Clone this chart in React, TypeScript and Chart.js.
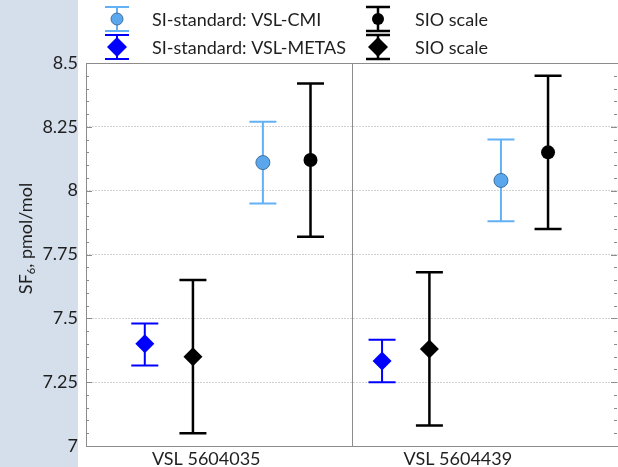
import React, { useEffect, useRef } from 'react';
import { Chart, registerables } from 'chart.js';

Chart.register(...registerables);

// ---- data ----
const categories = ['VSL 5604035', 'VSL 5604439'];
const categoryPositions = [0.452, 1.398];
const groupDivider = [1];
const yTickValues = [7, 7.25, 7.5, 7.75, 8, 8.25, 8.5];

const cmiX = [0.665, 1.56];
const cmiY = [8.11, 8.04];
const cmiLow = [7.95, 7.88];
const cmiHigh = [8.27, 8.2];

const sioCmiX = [0.844, 1.737];
const sioCmiY = [8.12, 8.15];
const sioCmiLow = [7.82, 7.85];
const sioCmiHigh = [8.42, 8.45];

const metasX = [0.221, 1.113];
const metasY = [7.4, 7.333];
const metasLow = [7.315, 7.25];
const metasHigh = [7.48, 7.416];

const sioMetasX = [0.402, 1.291];
const sioMetasY = [7.35, 7.38];
const sioMetasLow = [7.05, 7.08];
const sioMetasHigh = [7.65, 7.68];

const FONT = 'Lato, "Open Sans", sans-serif';
const TEXT = '#1f1f1f';

function pts(xs: number[], ys: number[], lo: number[], hi: number[]) {
  return xs.map((x, i) => ({ x, y: ys[i], yMin: lo[i], yMax: hi[i] }));
}

const errorBarPlugin = {
  id: 'errorBars',
  beforeDatasetsDraw(chart: any) {
    const { ctx } = chart;
    const xs = chart.scales.x;
    const ys = chart.scales.y;
    chart.data.datasets.forEach((ds: any, di: number) => {
      if (!chart.isDatasetVisible(di)) return;
      ctx.save();
      ctx.strokeStyle = ds.errorBarColor;
      ctx.lineWidth = ds.errorBarWidth;
      ds.data.forEach((d: any) => {
        const px = xs.getPixelForValue(d.x);
        const t = ys.getPixelForValue(d.yMax);
        const b = ys.getPixelForValue(d.yMin);
        const hw = 13.5;
        ctx.beginPath();
        ctx.moveTo(px, t);
        ctx.lineTo(px, b);
        ctx.moveTo(px - hw, t);
        ctx.lineTo(px + hw, t);
        ctx.moveTo(px - hw, b);
        ctx.lineTo(px + hw, b);
        ctx.stroke();
      });
      ctx.restore();
    });
  },
};

const framePlugin = {
  id: 'frame',
  beforeDatasetsDraw(chart: any) {
    const { ctx, chartArea: a } = chart;
    const ys = chart.scales.y;
    ctx.save();
    ctx.strokeStyle = '#8c8c8c';
    ctx.lineWidth = 1;
    ctx.strokeRect(Math.round(a.left) + 0.5, Math.round(a.top) + 0.5, Math.round(a.right - a.left), Math.round(a.bottom - a.top));
    for (let k = 0; k <= 30; k++) {
      const v = ys.min + k * 0.05;
      const py = Math.round(ys.getPixelForValue(v)) + 0.5;
      const major = k % 5 === 0;
      const len = major ? 6 : 3;
      ctx.beginPath();
      ctx.moveTo(a.left, py);
      ctx.lineTo(a.left + len, py);
      ctx.moveTo(a.right - 1, py);
      ctx.lineTo(a.right - 1 - len, py);
      ctx.stroke();
    }
    ctx.restore();
  },
};

const yTitlePlugin = {
  id: 'yTitle',
  afterDraw(chart: any) {
    const { ctx, chartArea: a } = chart;
    ctx.save();
    const cx = 26;
    const cy = (a.top + a.bottom) / 2 - 16;
    ctx.translate(cx, cy);
    ctx.rotate(-Math.PI / 2);
    ctx.fillStyle = TEXT;
    ctx.textBaseline = 'middle';
    const big = `18px ${FONT}`;
    const small = `11px ${FONT}`;
    ctx.font = big;
    const w1 = ctx.measureText('SF').width;
    const w3 = ctx.measureText(', pmol/mol').width;
    ctx.font = small;
    const w2 = ctx.measureText('6').width;
    let x = -(w1 + w2 + w3) / 2;
    ctx.textAlign = 'left';
    ctx.font = big;
    ctx.fillText('SF', x, 0);
    x += w1;
    ctx.font = small;
    ctx.fillText('6', x, 5);
    x += w2;
    ctx.font = big;
    ctx.fillText(', pmol/mol', x, 0);
    ctx.restore();
  },
};

const legendPlugin = {
  id: 'customLegend',
  afterDraw(chart: any) {
    const { ctx } = chart;
    const slots = [
      { sx: 117, tx: 152, y: 19 },
      { sx: 117, tx: 152, y: 47 },
      { sx: 378, tx: 415, y: 19 },
      { sx: 378, tx: 415, y: 47 },
    ];
    chart.data.datasets.forEach((ds: any, i: number) => {
      const s = slots[i];
      ctx.save();
      ctx.strokeStyle = ds.errorBarColor;
      ctx.lineWidth = ds.errorBarWidth;
      const t = s.y - 12;
      const b = s.y + 12;
      const hw = 12;
      ctx.beginPath();
      ctx.moveTo(s.sx, t);
      ctx.lineTo(s.sx, b);
      ctx.moveTo(s.sx - hw, t);
      ctx.lineTo(s.sx + hw, t);
      ctx.moveTo(s.sx - hw, b);
      ctx.lineTo(s.sx + hw, b);
      ctx.stroke();
      ctx.restore();
      ctx.save();
      ctx.fillStyle = ds.pointBackgroundColor;
      ctx.strokeStyle = ds.pointBorderColor;
      ctx.lineWidth = ds.pointBorderWidth;
      const r = ds.pointStyle === 'circle' ? 6 : 10;
      ctx.beginPath();
      if (ds.pointStyle === 'circle') {
        ctx.arc(s.sx, s.y, r, 0, Math.PI * 2);
      } else {
        ctx.moveTo(s.sx, s.y - r);
        ctx.lineTo(s.sx + r, s.y);
        ctx.lineTo(s.sx, s.y + r);
        ctx.lineTo(s.sx - r, s.y);
        ctx.closePath();
      }
      ctx.fill();
      if (ds.pointBorderWidth > 0) ctx.stroke();
      ctx.restore();
      ctx.save();
      ctx.fillStyle = TEXT;
      ctx.font = `18px ${FONT}`;
      ctx.textBaseline = 'middle';
      ctx.textAlign = 'left';
      ctx.fillText(ds.label, s.tx, s.y + 1);
      ctx.restore();
    });
  },
};

export default function App() {
  const ref = useRef<HTMLCanvasElement>(null);
  useEffect(() => {
    document.body.style.margin = '0';
    const chart = new Chart(ref.current as HTMLCanvasElement, {
      type: 'scatter',
      data: {
        datasets: [
          {
            label: 'SI-standard: VSL-CMI',
            data: pts(cmiX, cmiY, cmiLow, cmiHigh),
            pointStyle: 'circle',
            pointRadius: 7,
            pointBackgroundColor: '#5aa7ee',
            pointBorderColor: '#41709c',
            pointBorderWidth: 1,
            errorBarColor: '#63b1f5',
            errorBarWidth: 2,
          } as any,
          {
            label: 'SI-standard: VSL-METAS',
            data: pts(metasX, metasY, metasLow, metasHigh),
            pointStyle: 'rectRot',
            pointRadius: 9.5,
            pointBackgroundColor: '#0000ff',
            pointBorderColor: '#0000ff',
            pointBorderWidth: 0,
            errorBarColor: '#0000ff',
            errorBarWidth: 2,
          } as any,
          {
            label: 'SIO scale',
            data: pts(sioCmiX, sioCmiY, sioCmiLow, sioCmiHigh),
            pointStyle: 'circle',
            pointRadius: 7,
            pointBackgroundColor: '#000000',
            pointBorderColor: '#000000',
            pointBorderWidth: 0,
            errorBarColor: '#000000',
            errorBarWidth: 2.5,
          } as any,
          {
            label: 'SIO scale',
            data: pts(sioMetasX, sioMetasY, sioMetasLow, sioMetasHigh),
            pointStyle: 'rectRot',
            pointRadius: 9.5,
            pointBackgroundColor: '#000000',
            pointBorderColor: '#000000',
            pointBorderWidth: 0,
            errorBarColor: '#000000',
            errorBarWidth: 2.5,
          } as any,
        ],
      },
      options: {
        animation: false,
        responsive: false,
        layout: { autoPadding: false, padding: { top: 63, left: 0, right: -1, bottom: 0 } },
        plugins: {
          legend: { display: false },
          tooltip: { enabled: false },
        },
        scales: {
          x: {
            type: 'linear',
            min: 0,
            max: 2,
            afterBuildTicks: (scale: any) => {
              scale.ticks = [...categoryPositions, ...groupDivider].map((v) => ({ value: v }));
            },
            afterFit: (scale: any) => {
              scale.height = 21;
            },
            ticks: {
              autoSkip: false,
              maxRotation: 0,
              padding: 2,
              color: TEXT,
              font: { family: FONT, size: 18 },
              callback: (v: any) => {
                const i = categoryPositions.indexOf(v);
                return i >= 0 ? categories[i] : '';
              },
            },
            grid: {
              drawTicks: false,
              color: (c: any) => (c.tick && c.tick.value === 1 ? '#8c8c8c' : 'rgba(0,0,0,0)'),
            },
            border: { display: false },
          },
          y: {
            type: 'linear',
            min: 7,
            max: 8.5,
            afterBuildTicks: (scale: any) => {
              scale.ticks = yTickValues.map((v) => ({ value: v }));
            },
            afterFit: (scale: any) => {
              scale.width = 86;
            },
            ticks: {
              padding: 8,
              color: TEXT,
              font: { family: FONT, size: 18 },
              callback: (v: any) => String(Number(Number(v).toFixed(2))),
            },
            grid: {
              drawTicks: false,
              color: (c: any) =>
                c.tick && (c.tick.value === 7 || c.tick.value === 8.5) ? 'rgba(0,0,0,0)' : '#d2d2d2',
            },
            border: { display: false, dash: [2, 1] },
          },
        },
      },
      plugins: [errorBarPlugin, framePlugin, yTitlePlugin, legendPlugin],
    } as any);
    return () => chart.destroy();
  }, []);
  return (
    <div
      style={{
        position: 'relative',
        width: 618,
        height: 467,
        background: 'linear-gradient(to right, #d5dfeb 0px, #d5dfeb 78px, #ffffff 78px, #ffffff 100%)',
      }}
    >
      <canvas ref={ref} width={618} height={467} style={{ display: 'block' }} />
    </div>
  );
}
